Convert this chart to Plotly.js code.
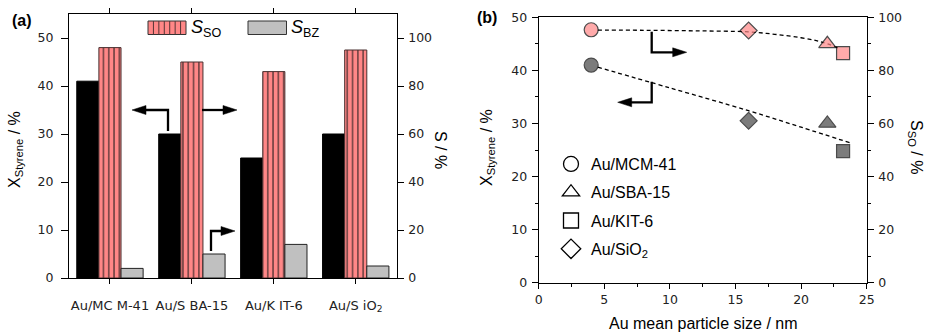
<!DOCTYPE html>
<html>
<head>
<meta charset="utf-8">
<script src="https://cdn.plot.ly/plotly-3.0.1.min.js"></script>
<style>
  html, body { margin: 0; padding: 0; background: #fff; }
  #chart { width: 925px; height: 334px; }
</style>
</head>
<body>
<div id="chart"></div>
<script>
// ---------- Panel (a) data ----------
const categories = ['Au/MCM-41', 'Au/SBA-15', 'Au/KIT-6', 'Au/SiO2'];
const tickLabels = ['Au/MC M-41', 'Au/S BA-15', 'Au/K IT-6', 'Au/S iO<sub>2</sub>'];
const xStyrene = [41, 30, 25, 30];      // left axis, %
const sSO = [96, 90, 86, 95];           // right axis, %
const sBZ = [4, 10, 14, 5];             // right axis, %

// ---------- Panel (b) data ----------
const particleSize = [4, 22, 23.2, 16];          // nm, same order as categories
const xStyreneB = [41, 30, 24.8, 30.5];
const sSOB = [95.3, 90, 86.5, 95];
const symbols = ['circle', 'triangle-up', 'square', 'diamond'];
const legendNames = ['Au/MCM-41', 'Au/SBA-15', 'Au/KIT-6', 'Au/SiO<sub>2</sub>'];
// dashed guide curves
const fitSOx = [4.5, 8, 12, 16, 18, 20, 21.5, 22.8];
const fitSOy = [95.2, 95.1, 94.9, 94.5, 93.6, 92.3, 90.8, 88.5];
const fitXx = [4.5, 10, 16, 20, 23.8];
const fitXy = [40.6, 36.7, 32.4, 29.3, 26.3];

const W = 925, H = 334;
const px = v => v / W;
const py = v => 1 - v / H;

const pink = '#ff8787';
const dark = '#464646';
const tickFont = { family: 'DejaVu Sans', size: 12.5, color: '#222' };
const titleFont = { family: 'Liberation Sans', size: 16, color: '#000' };

const traces = [
  { type: 'bar', x: categories, y: xStyrene, xaxis: 'x', yaxis: 'y', width: 0.27, offset: -0.405,
    marker: { color: '#000', line: { color: '#000', width: 1 } }, showlegend: false, hoverinfo: 'skip' },
  { type: 'bar', x: categories, y: sSO, xaxis: 'x', yaxis: 'y2', width: 0.27, offset: -0.135,
    marker: { color: pink, line: { color: '#4a3030', width: 1 },
      pattern: { shape: '|', bgcolor: pink, fgcolor: '#553535', size: 5.3, solidity: 0.25, fillmode: 'replace' } },
    showlegend: false, hoverinfo: 'skip' },
  { type: 'bar', x: categories, y: sBZ, xaxis: 'x', yaxis: 'y2', width: 0.27, offset: 0.135,
    marker: { color: '#c0c0c0', line: { color: '#222', width: 1 } }, showlegend: false, hoverinfo: 'skip' },

  { type: 'scatter', mode: 'lines', x: fitSOx, y: fitSOy, xaxis: 'x2', yaxis: 'y4',
    line: { color: '#000', width: 1.3, dash: '4px,3px', shape: 'spline' }, showlegend: false, hoverinfo: 'skip' },
  { type: 'scatter', mode: 'lines', x: fitXx, y: fitXy, xaxis: 'x2', yaxis: 'y3',
    line: { color: '#000', width: 1.3, dash: '4px,3px', shape: 'spline' }, showlegend: false, hoverinfo: 'skip' },
  { type: 'scatter', mode: 'markers', x: particleSize, y: sSOB, xaxis: 'x2', yaxis: 'y4',
    marker: { symbol: symbols, size: [14, 15, 13, 13], color: pink, line: { color: '#000', width: 1.2 } },
    showlegend: false, hoverinfo: 'skip' },
  { type: 'scatter', mode: 'markers', x: particleSize, y: xStyreneB, xaxis: 'x2', yaxis: 'y3',
    marker: { symbol: symbols, size: [14, 15, 13, 13], color: dark, line: { color: '#000', width: 1.2 } },
    showlegend: false, hoverinfo: 'skip' }
];

// legend entries (open symbols)
symbols.forEach((s, i) => {
  traces.push({ type: 'scatter', mode: 'markers', x: [null], y: [null], xaxis: 'x2', yaxis: 'y3',
    name: legendNames[i], legendgroup: 'g' + i,
    marker: { symbol: s + '-open', size: 15, color: '#000', line: { width: 1.3 } } });
});

const axCommon = { showline: true, linecolor: '#000', linewidth: 1, ticks: 'outside', tickcolor: '#000',
  tickwidth: 1, showgrid: false, zeroline: false, tickfont: tickFont, fixedrange: true };

// ---------- decorations ----------
const shapes = [];
// legend (a)
shapes.push({ type: 'rect', xref: 'paper', yref: 'paper', x0: px(148), x1: px(186), y0: py(34.5), y1: py(21),
  fillcolor: pink, line: { color: '#333', width: 1 } });
for (let k = 1; k <= 6; k++) {
  const xv = px(148 + k * 38 / 7);
  shapes.push({ type: 'line', xref: 'paper', yref: 'paper', x0: xv, x1: xv, y0: py(34.5), y1: py(21),
    line: { color: '#553535', width: 1 } });
}
shapes.push({ type: 'rect', xref: 'paper', yref: 'paper', x0: px(248), x1: px(286.5), y0: py(34.5), y1: py(21),
  fillcolor: '#c0c0c0', line: { color: '#333', width: 1 } });

function arrow(ax, ay, linePath, headPath) {
  const base = { type: 'path', xref: 'paper', yref: 'paper', xsizemode: 'pixel', ysizemode: 'pixel',
    xanchor: px(ax), yanchor: py(ay) };
  shapes.push(Object.assign({}, base, { path: linePath, line: { color: '#000', width: 2.3 } }));
  shapes.push(Object.assign({}, base, { path: headPath, fillcolor: '#000', line: { color: '#000', width: 0.5 } }));
}
// panel (a)
arrow(168, 110, 'M0,-21 V0 H-23', 'M-36,0 L-22,4.5 L-22,-4.5 Z');
arrow(202, 110, 'M0,0 H22', 'M35,0 L21,4.5 L21,-4.5 Z');
arrow(211, 231, 'M0,-20 V0 H11', 'M24,0 L10,4.5 L10,-4.5 Z');
// panel (b)
arrow(651.7, 52.3, 'M0,20.6 V0 H22', 'M35,0 L21,4.5 L21,-4.5 Z');
arrow(651.7, 102.3, 'M0,20.6 V0 H-21', 'M-34,0 L-20,4.5 L-20,-4.5 Z');

const ann = (x, y, text, extra) => Object.assign({ xref: 'paper', yref: 'paper', x: px(x), y: py(y), text: text,
  showarrow: false, font: titleFont, xanchor: 'center', yanchor: 'middle' }, extra || {});

const annotations = [
  ann(10, 20, '<b>(a)</b>', { xanchor: 'left' }),
  ann(475, 18, '<b>(b)</b>', { xanchor: 'left' }),
  ann(15, 150, 'X<sub>Styrene</sub> / %', { textangle: -90 }),
  ann(441, 150, 'S / %', { textangle: 90 }),
  ann(488, 148, 'X<sub>Styrene</sub> / %', { textangle: -90 }),
  ann(916, 147, 'S<sub>SO</sub> / %', { textangle: 90 }),
  ann(703, 323, 'Au mean particle size / nm'),
  ann(189, 29, '<i>S</i><sub>SO</sub>', { xanchor: 'left', font: { family: 'Liberation Sans', size: 18, color: '#000' } }),
  ann(289, 29, '<i>S</i><sub>BZ</sub>', { xanchor: 'left', font: { family: 'Liberation Sans', size: 18, color: '#000' } })
];

const layout = {
  width: W, height: H,
  margin: { l: 0, r: 0, t: 0, b: 0 },
  paper_bgcolor: '#fff', plot_bgcolor: 'rgba(0,0,0,0)',
  barmode: 'overlay',
  showlegend: true,
  legend: { x: px(551), y: py(147), xanchor: 'left', yanchor: 'top', bgcolor: 'rgba(0,0,0,0)',
    font: { family: 'Liberation Sans', size: 16, color: '#000' }, tracegroupgap: 4.5, itemclick: false },
  xaxis: Object.assign({}, axCommon, { domain: [px(69), px(396.7)], anchor: 'y', type: 'category',
    range: [-0.5, 3.5], tickvals: categories, ticktext: tickLabels, ticklen: 5, mirror: 'ticks',
    ticklabelstandoff: 10, tickfont: { family: 'DejaVu Sans', size: 13, color: '#222' } }),
  yaxis: Object.assign({}, axCommon, { domain: [1 - 278 / H, 1 - 14 / H], anchor: 'x', range: [0, 55],
    dtick: 10, ticklen: 7, ticklabelstandoff: 5 }),
  yaxis2: Object.assign({}, axCommon, { overlaying: 'y', side: 'right', anchor: 'x', range: [0, 110],
    dtick: 20, ticklen: 6, ticklabelstandoff: 2 }),
  xaxis2: Object.assign({}, axCommon, { domain: [px(538.7), px(866.7)], anchor: 'y3', range: [0, 25],
    dtick: 5, ticklen: 5, mirror: true,
    minor: { dtick: 2.5, ticks: 'outside', ticklen: 3, tickcolor: '#000' } }),
  yaxis3: Object.assign({}, axCommon, { domain: [1 - 282.7 / H, 1 - 17.3 / H], anchor: 'x2', range: [0, 50],
    dtick: 10, ticklen: 6, ticklabelstandoff: 2,
    minor: { dtick: 5, ticks: 'outside', ticklen: 3, tickcolor: '#000' } }),
  yaxis4: Object.assign({}, axCommon, { overlaying: 'y3', side: 'right', anchor: 'x2', range: [0, 100],
    dtick: 20, ticklen: 6, ticklabelstandoff: 2,
    minor: { dtick: 10, ticks: 'outside', ticklen: 3, tickcolor: '#000' } }),
  shapes: shapes,
  annotations: annotations
};

Plotly.newPlot('chart', traces, layout, { displayModeBar: false, staticPlot: true });
</script>
</body>
</html>
